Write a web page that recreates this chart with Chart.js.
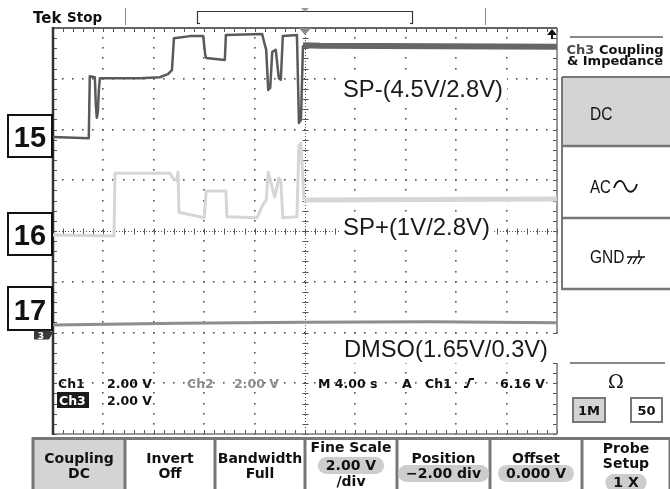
<!DOCTYPE html>
<html>
<head>
<meta charset="utf-8">
<style>
  html, body { margin: 0; padding: 0; background: #fff; }
  canvas { display: block; }
</style>
<script src="https://cdn.jsdelivr.net/npm/chart.js@4/dist/chart.umd.min.js"></script>
</head>
<body>
<div style="width:670px;height:489px;position:relative">
  <canvas id="scope" width="670" height="489"></canvas>
</div>
<script>
// Screen units: horizontal in divisions (-5..5, 4.00 s/div), vertical in divisions (-4..4)

// Ch1 : SP- line
const ch1Time  = [-5.00, -4.29, -4.27, -4.17, -4.15, -4.13, -4.11, -4.09, -4.07, -3.27, -2.88, -2.72, -2.64, -2.60, -2.28,
                  -2.02, -1.98, -1.96, -1.59, -1.57, -0.85, -0.81, -0.77, -0.73, -0.69, -0.65, -0.58, -0.52, -0.48, -0.44,
                  -0.16, -0.12, -0.08, -0.04, 0.30, 5.00];
const ch1Level = [ 1.85,  1.83,  3.05,  3.03,  2.48,  2.23,  2.34,  2.78,  3.01,  3.01,  3.03,  3.09,  3.17,  3.80,  3.84,
                   3.84,  3.47,  3.41,  3.37,  3.86,  3.88,  3.72,  3.57,  2.78,  2.82,  3.53,  3.57,  3.01,  2.98,  3.84,
                   3.86,  2.13,  2.19,  3.66, 3.65, 3.63];

// Ch2 : SP+ line
const ch2Time  = [-5.00, -3.79, -3.77, -2.68, -2.62, -2.54, -2.52, -2.50, -2.00, -1.96, -1.57, -1.55, -0.95, -0.85, -0.77,
                  -0.73, -0.60, -0.52, -0.48, -0.44, -0.16, -0.12, -0.08, -0.02, 5.00];
const ch2Level = [-0.08, -0.10,  1.14,  1.14,  1.04,  1.00,  1.16,  0.37,  0.26,  0.79,  0.79,  0.28,  0.26,  0.49,  0.61,
                   1.16,  0.67,  1.04,  1.00,  0.26,  0.28,  1.69,  1.73,  0.61, 0.63];

// Ch3 : DMSO line
const ch3Time  = [-5.00, -2.50, 0.00, 2.50, 5.00];
const ch3Level = [-1.85, -1.82, -1.80, -1.79, -1.81];

// Annotations next to the traces
const traceNotes = ['SP-(4.5V/2.8V)', 'SP+(1V/2.8V)', 'DMSO(1.65V/0.3V)'];
const sampleNos  = ['15', '16', '17'];

// Menu captions
const sideTitle   = ['Ch3 Coupling', '& Impedance'];
const sideButtons = ['DC', 'AC', 'GND'];
const bottomMenu = [
  { lines: ['Coupling', 'DC'] },
  { lines: ['Invert', 'Off'] },
  { lines: ['Bandwidth', 'Full'] },
  { lines: ['Fine Scale', '2.00 V', '/div'], pill: 1 },
  { lines: ['Position', '\u22122.00 div'], pill: 1 },
  { lines: ['Offset', '0.000 V'], pill: 1 },
  { lines: ['Probe', 'Setup', '1 X'], pill: 2 }
];

const toPoints = (t, v) => t.map((x, i) => ({ x, y: v[i] }));

function txt(ctx, s, x, y, font, color, align) {
  ctx.font = font;
  ctx.fillStyle = color;
  ctx.textAlign = align || 'left';
  ctx.textBaseline = 'alphabetic';
  ctx.fillText(s, x, y);
}
// text squeezed horizontally by factor k
function narrowTxt(ctx, s, x, y, font, color, k) {
  ctx.save();
  ctx.translate(x, y);
  ctx.scale(k, 1);
  txt(ctx, s, 0, 0, font, color);
  ctx.restore();
}
function hline(ctx, x0, x1, y, w, c) {
  ctx.strokeStyle = c; ctx.lineWidth = w;
  ctx.beginPath(); ctx.moveTo(x0, y); ctx.lineTo(x1, y); ctx.stroke();
}
function vline(ctx, x, y0, y1, w, c) {
  ctx.strokeStyle = c; ctx.lineWidth = w;
  ctx.beginPath(); ctx.moveTo(x, y0); ctx.lineTo(x, y1); ctx.stroke();
}
function pill(ctx, x, y, w, h, c) {
  ctx.fillStyle = c;
  ctx.beginPath();
  ctx.roundRect(x, y, w, h, h / 2);
  ctx.fill();
}

// Dotted graticule, frame ticks and centre cross
const graticule = {
  id: 'graticule',
  beforeDatasetsDraw(chart) {
    const { ctx, chartArea: a, scales: { x, y } } = chart;
    ctx.save();
    ctx.fillStyle = '#555';
    for (let i = -4; i <= 4; i++) {
      if (i === 0) continue;
      const px = Math.round(x.getPixelForValue(i));
      for (let m = -20; m <= 20; m++) {
        const py = Math.round(y.getPixelForValue(m / 5));
        ctx.fillRect(px - 1, py - 1, 1.6, 1.6);
      }
    }
    for (let j = -3; j <= 3; j++) {
      if (j === 0) continue;
      const py = Math.round(y.getPixelForValue(j));
      for (let m = -25; m <= 25; m++) {
        const px = Math.round(x.getPixelForValue(m / 5));
        ctx.fillRect(px - 1, py - 1, 1.6, 1.6);
      }
    }
    // centre cross
    const cx = Math.round(x.getPixelForValue(0)) + 0.5;
    const cy = Math.round(y.getPixelForValue(0)) + 0.5;
    ctx.setLineDash([1, 2]);
    hline(ctx, a.left, a.right, cy, 1, '#555');
    vline(ctx, cx, a.top, a.bottom, 1, '#555');
    ctx.setLineDash([]);
    ctx.strokeStyle = '#555'; ctx.lineWidth = 1;
    ctx.beginPath();
    for (let m = -25; m <= 25; m++) {
      const px = Math.round(x.getPixelForValue(m / 5)) + 0.5;
      ctx.moveTo(px, cy - 3); ctx.lineTo(px, cy + 3);
      ctx.moveTo(px, a.top); ctx.lineTo(px, a.top + 4);
      ctx.moveTo(px, a.bottom); ctx.lineTo(px, a.bottom - 4);
    }
    for (let m = -20; m <= 20; m++) {
      const py = Math.round(y.getPixelForValue(m / 5)) + 0.5;
      ctx.moveTo(cx - 3, py); ctx.lineTo(cx + 3, py);
      ctx.moveTo(a.left, py); ctx.lineTo(a.left + 4, py);
      ctx.moveTo(a.right, py); ctx.lineTo(a.right - 4, py);
    }
    ctx.stroke();
    // frame
    hline(ctx, a.left, a.right, a.top, 2, '#666');
    hline(ctx, a.left, a.right, a.bottom, 1.5, '#777');
    vline(ctx, a.right, a.top, a.bottom, 1.5, '#777');
    vline(ctx, a.left, a.top - 1, a.bottom + 1, 2.5, '#333');
    ctx.restore();
  }
};

// Readouts, labels and instrument menus
const overlay = {
  id: 'overlay',
  afterDatasetsDraw(chart) {
    const { ctx, chartArea: a, scales: { x, y } } = chart;
    ctx.save();
    const cx = x.getPixelForValue(0);

    // trigger position marker and off-screen trigger level arrow
    ctx.fillStyle = '#8a8a8a';
    ctx.beginPath(); ctx.moveTo(cx - 6, a.top); ctx.lineTo(cx + 6, a.top); ctx.lineTo(cx, a.top + 7); ctx.fill();
    ctx.fillStyle = '#111';
    ctx.beginPath(); ctx.moveTo(a.right - 10, a.top + 7); ctx.lineTo(a.right - 5, a.top + 1); ctx.lineTo(a.right, a.top + 7); ctx.fill();
    vline(ctx, a.right - 5, a.top + 5, a.top + 11, 2, '#111');

    // trace annotations on white
    const noteFont = '24px "Liberation Sans", Arial, sans-serif';
    const notes = [
      { s: traceNotes[0], x: 343, y: 97, w: 160, box: [339, 74, 168, 29] },
      { s: traceNotes[1], x: 343, y: 235, w: 147, box: [339, 214, 154, 28] },
      { s: traceNotes[2], x: 344, y: 357, w: 204, box: [338, 334, 222, 29] }
    ];
    notes.forEach(n => {
      ctx.fillStyle = '#fff';
      ctx.fillRect(n.box[0], n.box[1], n.box[2], n.box[3]);
      ctx.font = noteFont;
      const mw = ctx.measureText(n.s).width;
      narrowTxt(ctx, n.s, n.x, n.y, noteFont, '#1a1a1a', n.w / mw);
    });

    // sample number boxes
    const boxes = [[115, 157, 147], [213, 255, 245], [287, 330, 320]];
    boxes.forEach((b, i) => {
      ctx.fillStyle = '#fff';
      ctx.fillRect(8, b[0], 44, b[1] - b[0]);
      ctx.strokeStyle = '#111'; ctx.lineWidth = 2;
      ctx.strokeRect(8, b[0], 44, b[1] - b[0]);
      txt(ctx, sampleNos[i], 30, b[2], 'bold 29px "Liberation Sans", Arial, sans-serif', '#111', 'center');
    });

    // Ch3 ground marker
    const gy = y.getPixelForValue(-2);
    ctx.fillStyle = '#3a3a3a';
    ctx.beginPath();
    ctx.moveTo(34, gy - 2); ctx.lineTo(49, gy - 2); ctx.lineTo(53, gy); ctx.lineTo(49, gy + 7); ctx.lineTo(34, gy + 7);
    ctx.fill();
    txt(ctx, '3', 41, gy + 6, 'bold 9px "DejaVu Sans", sans-serif', '#fff', 'center');

    // vertical / horizontal readouts
    const rf = 'bold 12.5px "DejaVu Sans", sans-serif';
    txt(ctx, 'Ch1', 58, 388, rf, '#111');
    txt(ctx, '2.00 V', 107, 388, rf, '#111');
    txt(ctx, 'Ch2', 187, 388, rf, '#8c8c8c');
    txt(ctx, '2.00 V', 234, 388, rf, '#8c8c8c');
    txt(ctx, 'M 4.00 s', 318, 388, rf, '#111');
    txt(ctx, 'A', 402, 388, rf, '#111');
    txt(ctx, 'Ch1', 425, 388, rf, '#111');
    ctx.strokeStyle = '#111'; ctx.lineWidth = 2;
    ctx.beginPath(); ctx.moveTo(464, 387); ctx.lineTo(467, 387); ctx.lineTo(470, 379); ctx.lineTo(474, 379); ctx.stroke();
    txt(ctx, '6.16 V', 500, 388, rf, '#111');
    ctx.fillStyle = '#1a1a1a';
    ctx.fillRect(57, 392, 32, 16);
    txt(ctx, 'Ch3', 59, 405, rf, '#fff');
    txt(ctx, '2.00 V', 107, 405, rf, '#111');

    // header
    txt(ctx, 'Tek', 33, 23, 'bold 15px "DejaVu Sans", sans-serif', '#111');
    txt(ctx, 'Stop', 67, 22, 'bold 13.5px "DejaVu Sans", sans-serif', '#111');
    vline(ctx, 125.5, 8, 25, 1, '#888');
    vline(ctx, 485.5, 8, 25, 1, '#888');
    hline(ctx, 197, 413, 11.5, 1.2, '#333');
    vline(ctx, 197.5, 11, 24, 1.2, '#333');
    hline(ctx, 197, 200, 23.5, 1.2, '#333');
    vline(ctx, 412.5, 11, 24, 1.2, '#333');
    hline(ctx, 410, 413, 23.5, 1.2, '#333');
    ctx.fillStyle = '#999';
    ctx.beginPath(); ctx.moveTo(cx - 4, 8); ctx.lineTo(cx + 4, 8); ctx.lineTo(cx, 12); ctx.fill();

    // side menu
    hline(ctx, 570, 663, 37, 2, '#888');
    const sf = 'bold 13px "DejaVu Sans", sans-serif';
    ctx.font = sf;
    const w1 = ctx.measureText('Ch3 ').width, w2 = ctx.measureText('Coupling').width;
    const sx = 615 - (w1 + w2) / 2;
    txt(ctx, 'Ch3', sx, 54, sf, '#4a4a4a');
    txt(ctx, 'Coupling', sx + w1, 54, sf, '#111');
    txt(ctx, sideTitle[1], 615, 65, sf, '#111', 'center');
    ctx.fillStyle = '#d4d4d4';
    ctx.fillRect(562, 77, 108, 69);
    hline(ctx, 562, 670, 77, 2, '#777');
    hline(ctx, 562, 670, 146, 2.5, '#777');
    hline(ctx, 562, 670, 218, 2.5, '#777');
    hline(ctx, 562, 670, 289, 2.5, '#777');
    vline(ctx, 562, 77, 290, 2, '#777');
    const bf = '18px "Liberation Sans", Arial, sans-serif';
    narrowTxt(ctx, sideButtons[0], 590, 120, bf, '#111', 0.86);
    narrowTxt(ctx, sideButtons[1], 590, 193, bf, '#111', 0.84);
    narrowTxt(ctx, sideButtons[2], 590, 263, bf, '#111', 0.86);
    // AC wave
    ctx.strokeStyle = '#111'; ctx.lineWidth = 1.8;
    ctx.beginPath();
    ctx.moveTo(614, 188);
    ctx.bezierCurveTo(617, 179, 622, 179, 625, 186);
    ctx.bezierCurveTo(628, 194, 634, 194, 637, 184);
    ctx.stroke();
    // ground symbol
    ctx.lineWidth = 1.4;
    ctx.beginPath();
    ctx.moveTo(627, 257); ctx.lineTo(645, 257);
    ctx.moveTo(639, 250); ctx.lineTo(639, 257);
    ctx.moveTo(632, 257); ctx.lineTo(628, 264);
    ctx.moveTo(637, 257); ctx.lineTo(633, 264);
    ctx.moveTo(642, 257); ctx.lineTo(638, 264);
    ctx.stroke();
    // impedance
    hline(ctx, 570, 665, 363, 2, '#888');
    txt(ctx, '\u03A9', 616, 388, '19px "DejaVu Serif", serif', '#111', 'center');
    ctx.fillStyle = '#d4d4d4';
    ctx.fillRect(573, 398, 32, 24);
    ctx.strokeStyle = '#777'; ctx.lineWidth = 2;
    ctx.strokeRect(573, 398, 32, 24);
    ctx.fillStyle = '#fff';
    ctx.fillRect(631, 398, 31, 24);
    ctx.strokeRect(631, 398, 31, 24);
    txt(ctx, '1M', 589, 415, 'bold 13px "DejaVu Sans", sans-serif', '#111', 'center');
    txt(ctx, '50', 646.5, 415, 'bold 13px "DejaVu Sans", sans-serif', '#111', 'center');

    // bottom menu
    const edges = [33, 125, 215, 305, 397, 490, 582, 670];
    ctx.fillStyle = '#d4d4d4';
    ctx.fillRect(33, 438, 92, 51);
    hline(ctx, 33, 670, 438.5, 3, '#777');
    edges.forEach(e => vline(ctx, e, 437, 489, 3, '#777'));
    const mf = 'bold 14px "DejaVu Sans", sans-serif';
    const rows2 = [463, 478];
    bottomMenu.forEach((m, i) => {
      const mid = (edges[i] + edges[i + 1]) / 2;
      const rows = m.lines.length === 3 ? (i === 6 ? [453, 468, 487] : [452, 470, 486]) : rows2;
      m.lines.forEach((s, k) => {
        if (m.pill === k) {
          ctx.font = mf;
          const tw = ctx.measureText(s).width;
          pill(ctx, mid - tw / 2 - 8, rows[k] - 13, tw + 16, 17, '#cdcdcd');
        }
        txt(ctx, s, mid, rows[k], mf, '#111', 'center');
      });
    });
    ctx.restore();
  }
};

new Chart(document.getElementById('scope'), {
  type: 'line',
  data: {
    datasets: [
      {
        label: 'Ch3 DMSO',
        data: toPoints(ch3Time, ch3Level),
        borderColor: '#8e8e8e',
        borderWidth: 3
      },
      {
        label: 'Ch2 SP+',
        data: toPoints(ch2Time, ch2Level),
        borderColor: '#d6d6d6',
        borderWidth: 3,
        segment: { borderWidth: c => (c.p0.parsed.x >= -0.02 ? 5 : 3) }
      },
      {
        label: 'Ch1 SP-',
        data: toPoints(ch1Time, ch1Level),
        borderColor: '#5a5a5a',
        borderWidth: 2.5,
        segment: {
          borderWidth: c => (c.p0.parsed.x >= -0.04 ? 6 : 2.5),
          borderColor: c => (c.p0.parsed.x >= -0.04 ? '#666' : '#5a5a5a')
        }
      }
    ]
  },
  options: {
    responsive: false,
    animation: false,
    devicePixelRatio: 1,
    layout: { padding: { left: 53, right: 113, top: 28, bottom: 55 } },
    scales: {
      x: { type: 'linear', min: -5, max: 5, display: false },
      y: { type: 'linear', min: -4, max: 4, display: false }
    },
    elements: {
      point: { radius: 0 },
      line: { tension: 0, borderJoinStyle: 'round', borderCapStyle: 'butt' }
    },
    plugins: { legend: { display: false }, tooltip: { enabled: false } }
  },
  plugins: [graticule, overlay]
});
</script>
</body>
</html>
